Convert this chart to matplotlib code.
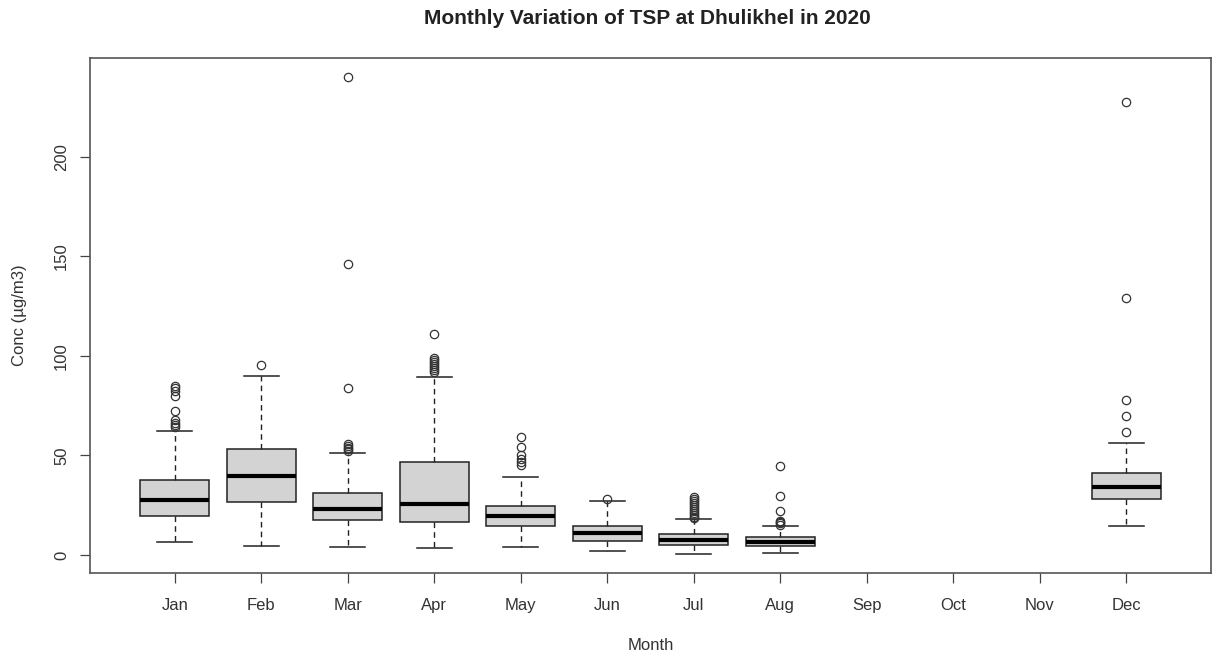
import matplotlib
matplotlib.use("Agg")
import matplotlib.pyplot as plt

plt.rcParams['font.family'] = ['Liberation Sans', 'DejaVu Sans']

months = ['Jan', 'Feb', 'Mar', 'Apr', 'May', 'Jun',
          'Jul', 'Aug', 'Sep', 'Oct', 'Nov', 'Dec']
# months with data (Sep-Nov have none)
data_months = ['Jan', 'Feb', 'Mar', 'Apr', 'May', 'Jun', 'Jul', 'Aug', 'Dec']

whis_lo = [6.6, 4.6, 4.2, 3.5, 3.9, 2.0, 0.5, 1.2, 14.7]
q1 = [19.5, 26.7, 17.7, 16.8, 14.7, 7.0, 4.9, 4.7, 28.0]
median = [27.5, 39.7, 23.1, 25.8, 19.8, 11.2, 7.5, 6.7, 34.0]
q3 = [37.7, 53.0, 31.3, 46.9, 24.8, 14.7, 10.4, 8.9, 41.4]
whis_hi = [62.1, 90.1, 51.0, 89.3, 39.0, 27.1, 17.9, 14.6, 56.1]
outliers = [
    [64.5, 65.5, 66.5, 68, 72.5, 80, 82.5, 84, 85],
    [95.6],
    [52, 53, 54, 55, 56, 83.7, 146.3, 240.1],
    [92, 93, 94, 95, 96, 97, 98, 99, 111.2],
    [45, 46.5, 48, 50, 54.5, 59.5],
    [28.3],
    [18.5, 19, 20, 21, 22, 23, 24, 25, 26, 27, 28, 29],
    [15, 16, 16.5, 17, 22.3, 29.6, 44.9],
    [62.0, 69.8, 77.9, 129.3, 227.5],
]

stats = []
for i, m in enumerate(data_months):
    stats.append(dict(label=m, whislo=whis_lo[i], q1=q1[i], med=median[i],
                      q3=q3[i], whishi=whis_hi[i], fliers=outliers[i]))
positions = [months.index(m) + 1 for m in data_months]

fig = plt.figure(figsize=(12.12, 6.58), dpi=100)
ax = fig.add_axes([90 / 1212, 1 - 573 / 658, 1121 / 1212, 515 / 658])

ax.bxp(stats, positions=positions, widths=0.8, capwidths=0.4,
       patch_artist=True,
       boxprops=dict(facecolor='#d3d3d3', edgecolor='#222222', linewidth=1.1),
       medianprops=dict(color='black', linewidth=3, solid_capstyle='butt'),
       whiskerprops=dict(color='#222222', linewidth=1, linestyle=(0, (4, 3))),
       capprops=dict(color='#222222', linewidth=1.1),
       flierprops=dict(marker='o', markerfacecolor='none',
                       markeredgecolor='#333333', markersize=6,
                       markeredgewidth=0.9))

ax.set_xlim(0.02, 12.98)
ax.set_ylim(-9.05, 249.7)
ax.set_xticks(range(1, 13))
ax.set_xticklabels(months)
ax.set_yticks([0, 50, 100, 150, 200])
ax.tick_params(axis='y', labelrotation=90)
for lab in ax.get_yticklabels():
    lab.set_verticalalignment('center')
ax.tick_params(length=7, width=0.9, color='#444444', labelsize=12,
               labelcolor='#333333')
ax.tick_params(axis='x', pad=11)
ax.tick_params(axis='y', pad=8)
for sp in ax.spines.values():
    sp.set_color('#555555')
    sp.set_linewidth(1.2)

ax.set_xlabel('Month', fontsize=12, color='#333333', va='center')
ax.xaxis.set_label_coords(0.5, (573 - 645) / 515)
ax.set_ylabel('Conc (\u00b5g/m3)', fontsize=12, color='#333333', va='center')
ax.yaxis.set_label_coords((20 - 90) / 1121, 0.5)
fig.suptitle('Monthly Variation of TSP at Dhulikhel in 2020',
             x=647 / 1212, y=1 - 19 / 658, va='center',
             fontsize=15, fontweight='bold', color='#222222')

fig.savefig('out.png', dpi=100)
